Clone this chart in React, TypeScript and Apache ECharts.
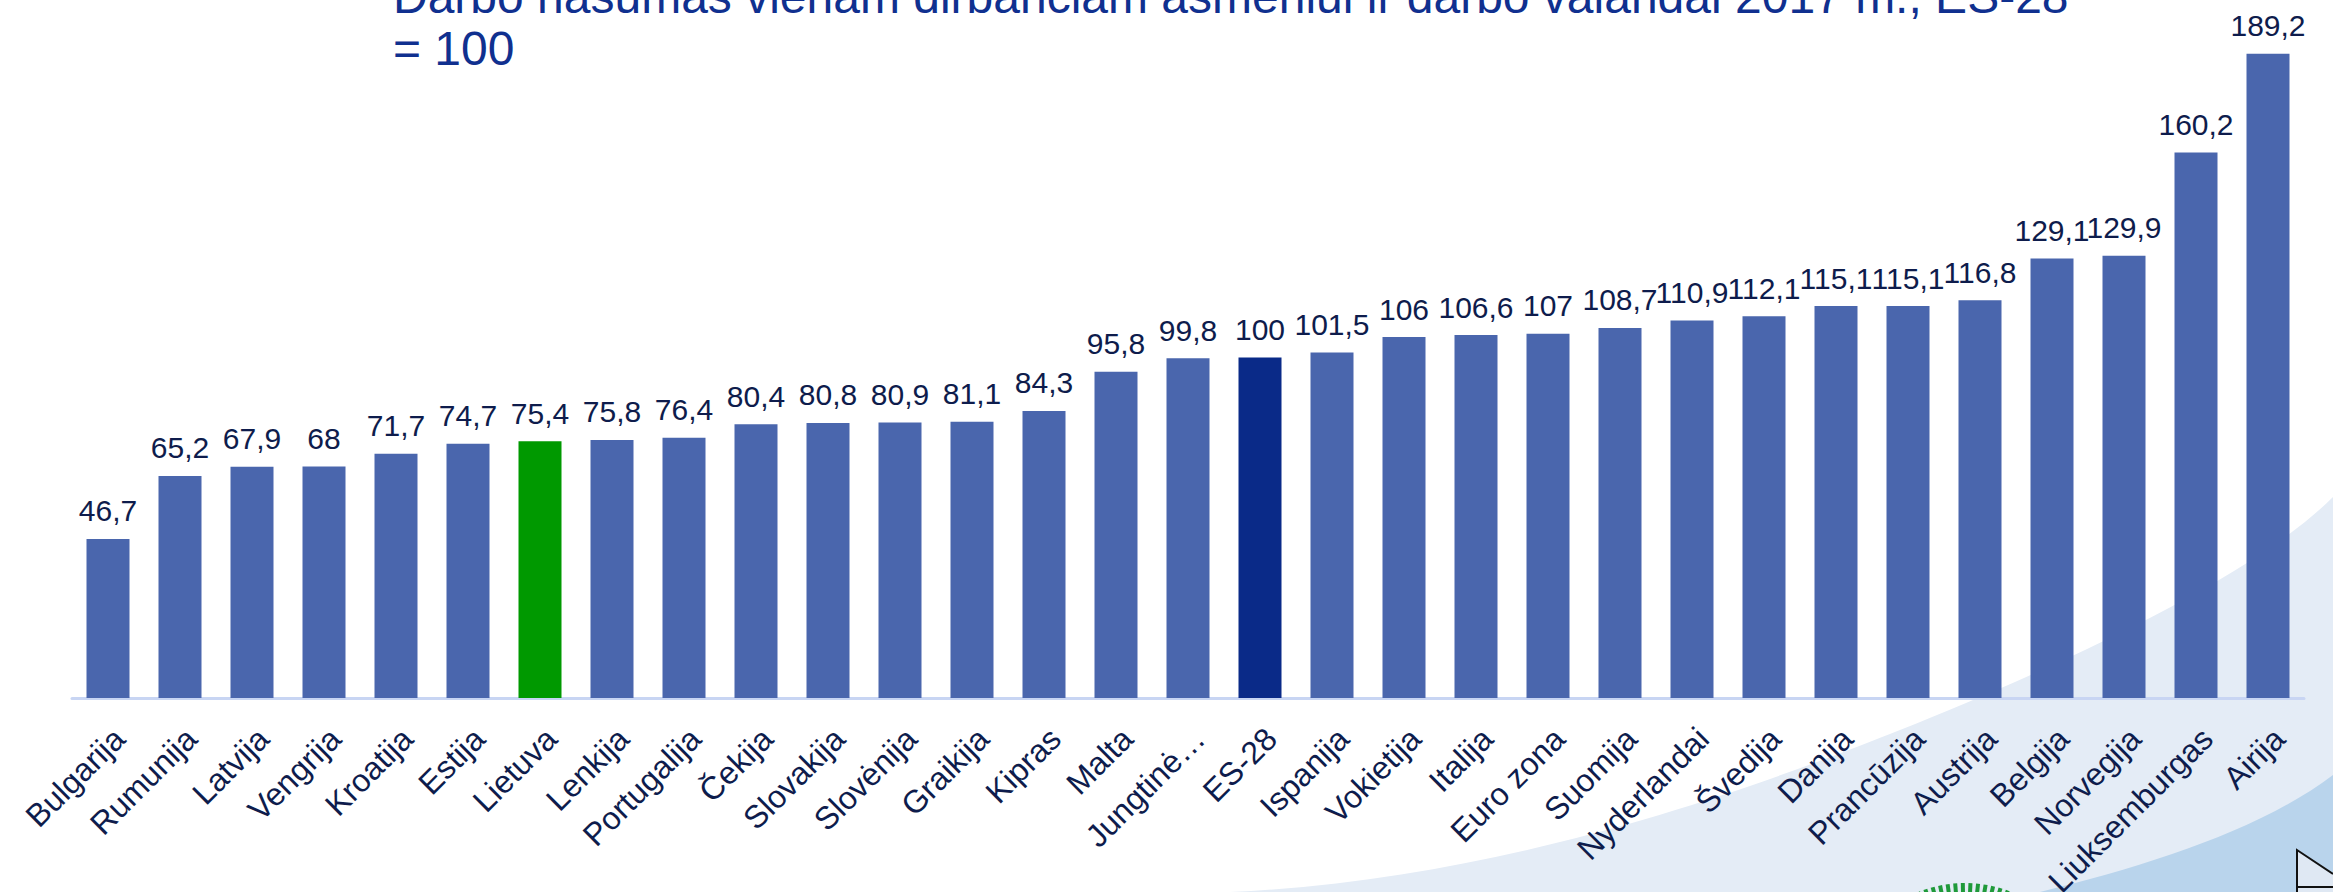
import React, { useEffect, useRef } from "react";
import * as echarts from "echarts";

const categories = [
  "Bulgarija", "Rumunija", "Latvija", "Vengrija", "Kroatija", "Estija", "Lietuva",
  "Lenkija", "Portugalija", "Čekija", "Slovakija", "Slovėnija", "Graikija", "Kipras",
  "Malta", "Jungtinė Karalystė", "ES-28", "Ispanija", "Vokietija", "Italija", "Euro zona",
  "Suomija", "Nyderlandai", "Švedija", "Danija", "Prancūzija", "Austrija", "Belgija",
  "Norvegija", "Liuksemburgas", "Airija",
];

const values = [
  46.7, 65.2, 67.9, 68, 71.7, 74.7, 75.4, 75.8, 76.4, 80.4, 80.8, 80.9, 81.1, 84.3,
  95.8, 99.8, 100, 101.5, 106, 106.6, 107, 108.7, 110.9, 112.1, 115.1, 115.1, 116.8,
  129.1, 129.9, 160.2, 189.2,
];

const highlightColors: Record<string, string> = {
  Lietuva: "#009900",
  "ES-28": "#0a2a88",
};

const titleLines = [
  "Darbo našumas vienam dirbančiam asmeniui ir darbo valandai 2017 m., ES-28",
  "= 100",
];

const FONT = "'Liberation Sans', Arial, Helvetica, sans-serif";

const LIGHT_PATH =
  "M 1230 892 C 1500 880 1750 790 1900 730 C 2050 670 2250 580 2333 497 L 2333 892 Z";
const DARK_PATH = "M 2040 892 C 2150 865 2260 830 2333 775 L 2333 892 Z";

let registered = false;
function registerShapes() {
  if (registered) return;
  registered = true;
  echarts.graphic.registerShape("bgLight", echarts.graphic.extendPath(LIGHT_PATH, {}) as any);
  echarts.graphic.registerShape("bgDark", echarts.graphic.extendPath(DARK_PATH, {}) as any);
}

function logoStripes() {
  const cx = 1965;
  const cy = 1008;
  const items: any[] = [];
  for (let a = -140; a <= -40; a += 3.5) {
    const r = (a * Math.PI) / 180;
    items.push({
      type: "line",
      z: -5,
      shape: {
        x1: cx + 100 * Math.cos(r),
        y1: cy + 100 * Math.sin(r),
        x2: cx + 125 * Math.cos(r),
        y2: cy + 125 * Math.sin(r),
      },
      style: { stroke: "#1f9a3a", lineWidth: 4 },
      silent: true,
    });
  }
  return items;
}

export default function App() {
  const ref = useRef<HTMLDivElement>(null);

  useEffect(() => {
    if (!ref.current) return;
    registerShapes();
    const chart = echarts.init(ref.current, undefined, { renderer: "svg" });

    const data = categories.map((c, i) => ({
      value: values[i],
      itemStyle: { color: highlightColors[c] || "#4a66ad" },
    }));

    chart.setOption({
      animation: false,
      backgroundColor: "#ffffff",
      textStyle: { fontFamily: FONT },
      grid: {
        left: 72,
        right: 29,
        top: 17,
        bottom: 194,
        containLabel: false,
        outerBoundsMode: "none",
      },
      xAxis: {
        type: "category",
        data: categories,
        axisLine: { show: true, lineStyle: { color: "#c8d5f3", width: 3 } },
        axisTick: { show: false },
        axisLabel: {
          interval: 0,
          rotate: 45,
          margin: 24,
          verticalAlign: "top",
          fontSize: 32,
          fontFamily: FONT,
          color: "#0e1c4c",
          formatter: (v: string) => (v.length > 14 ? v.split(" ")[0] + "…" : v),
        },
      },
      yAxis: {
        type: "value",
        min: 0,
        max: 200,
        show: false,
        splitLine: { show: false },
      },
      series: [
        {
          type: "bar",
          data,
          barWidth: 43,
          label: {
            show: true,
            position: "top",
            distance: 13,
            fontSize: 30,
            fontFamily: FONT,
            color: "#0e1c4c",
            formatter: (p: any) => String(p.value).replace(".", ","),
          },
        },
      ],
      graphic: [
        { type: "bgLight", z: -10, silent: true, style: { fill: "#e4ecf6" } },
        { type: "bgDark", z: -9, silent: true, style: { fill: "#b9d4ec" } },
        ...logoStripes(),
        {
          type: "polygon",
          z: -4,
          silent: true,
          shape: { points: [[2333, 874], [2297, 850], [2297, 892], [2333, 892]] },
          style: { fill: "#dfe8f3", stroke: "none" },
        },
        {
          type: "polyline",
          z: -3,
          silent: true,
          shape: { points: [[2333, 874], [2297, 850], [2297, 892]] },
          style: { stroke: "#111111", lineWidth: 2, fill: "none" },
        },
        {
          type: "line",
          z: -3,
          silent: true,
          shape: { x1: 2297, y1: 887, x2: 2333, y2: 887 },
          style: { stroke: "#111111", lineWidth: 2 },
        },
        {
          type: "text",
          x: 393,
          y: -4,
          silent: true,
          style: {
            text: titleLines[0],
            font: `48px ${FONT}`,
            fill: "#10308f",
            align: "left",
            verticalAlign: "middle",
          },
        },
        {
          type: "text",
          x: 393,
          y: 48,
          silent: true,
          style: {
            text: titleLines[1],
            font: `48px ${FONT}`,
            fill: "#10308f",
            align: "left",
            verticalAlign: "middle",
          },
        },
      ],
    });

    return () => chart.dispose();
  }, []);

  return (
    <div
      ref={ref}
      style={{ position: "fixed", left: 0, top: 0, width: 2333, height: 892, background: "#fff" }}
    />
  );
}
